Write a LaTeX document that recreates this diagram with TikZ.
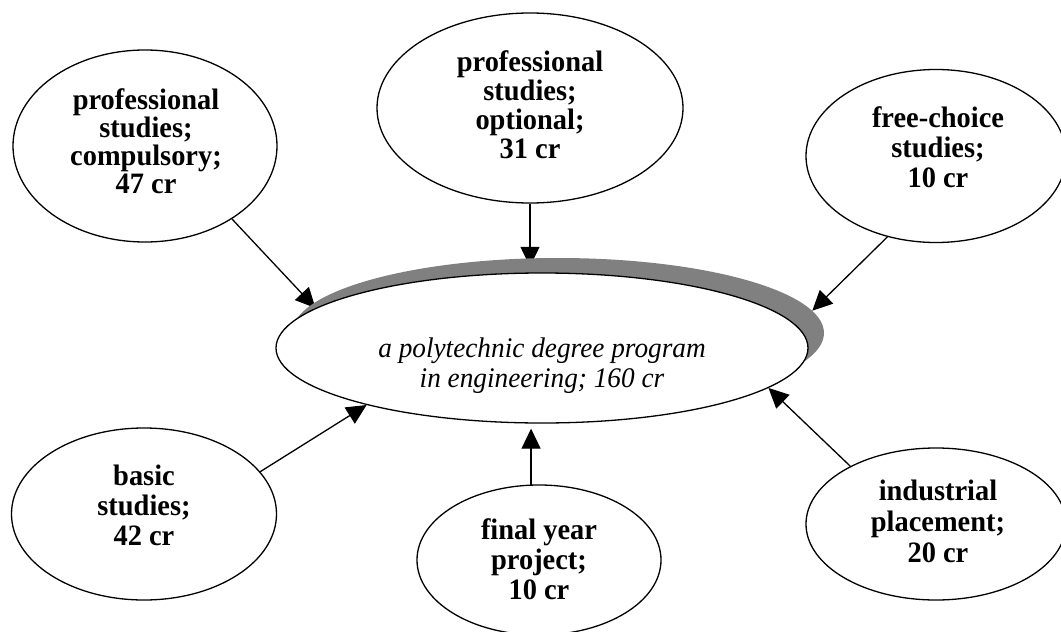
\documentclass[tikz,border=0pt]{standalone}
\usepackage{fontspec}
\setmainfont{Liberation Serif}[FakeStretch=0.96]
\usetikzlibrary{shapes.geometric,arrows.meta}
\definecolor{shadegray}{RGB}{128,128,128}
\pgfdeclarelayer{links}
\pgfdeclarelayer{shade}
\pgfsetlayers{links,shade,main}

\begin{document}
\begin{tikzpicture}[x=1pt,y=-1pt,
  part/.style={ellipse,draw,line width=1.3pt,fill=white,inner sep=0pt},
  tag/.style={align=center,inner sep=0pt,font=\fontsize{29.6}{30}\selectfont\bfseries},
  link/.style={line width=1.3pt,-{Triangle[length=20pt,width=19pt]}},
]
\useasboundingbox (0,0) rectangle (1061,632);

% the whole programme, with its offset shadow
\node[part,minimum width=532pt,minimum height=150pt] (prog) at (542,348) {};
\node[align=center,inner sep=0pt,font=\fontsize{28.4}{30}\selectfont\itshape]
  (progtext) at (542,366) {a polytechnic degree program\\in engineering; 160 cr};
\begin{pgfonlayer}{shade}
  \node[ellipse,fill=shadegray,inner sep=0pt,
        minimum width=532pt,minimum height=150pt] (shadow) at (558,333) {};
\end{pgfonlayer}

% the parts of the programme
\node[part,minimum width=264pt,minimum height=192pt] (comp) at (145,146) {};
\node[tag,font=\fontsize{29.6}{28}\selectfont\bfseries] (comptext) at (146,141)
  {professional\\studies;\\compulsory;\\47 cr};

\node[part,minimum width=306pt,minimum height=190pt] (opt) at (530,108) {};
\node[tag,font=\fontsize{29.6}{29}\selectfont\bfseries] (opttext) at (530,105)
  {professional\\studies;\\optional;\\31 cr};

\node[part,minimum width=260pt,minimum height=173pt] (free) at (936,156) {};
\node[tag] (freetext) at (938,147) {free-choice\\studies;\\10 cr};

\node[part,minimum width=265pt,minimum height=172pt] (basic) at (144,514) {};
\node[tag] (basictext) at (144,505) {basic\\studies;\\42 cr};

\node[part,minimum width=244pt,minimum height=150pt] (proj) at (539,560) {};
\node[tag] (projtext) at (539,559) {final year\\project;\\10 cr};

\node[part,minimum width=260pt,minimum height=152pt] (place) at (936,524) {};
\node[tag,font=\fontsize{29.6}{31}\selectfont\bfseries] (placetext) at (938,521)
  {industrial\\placement;\\20 cr};

% arrows into the programme
\begin{pgfonlayer}{links}
  \draw[link] (comp.320) -- (prog.170);
  \draw[link,shorten >=-9pt] (opt.south) -- (opt.south |- shadow.north);
  \draw[link] (free.239) -- (shadow.5);
  \draw[link] (basic.20) -- (prog.198);
  \draw[link,shorten >=5pt] (proj.96) -- (proj.96 |- prog.south);
  \draw[link] (place.146) -- (prog.350);
\end{pgfonlayer}
\end{tikzpicture}
\end{document}
